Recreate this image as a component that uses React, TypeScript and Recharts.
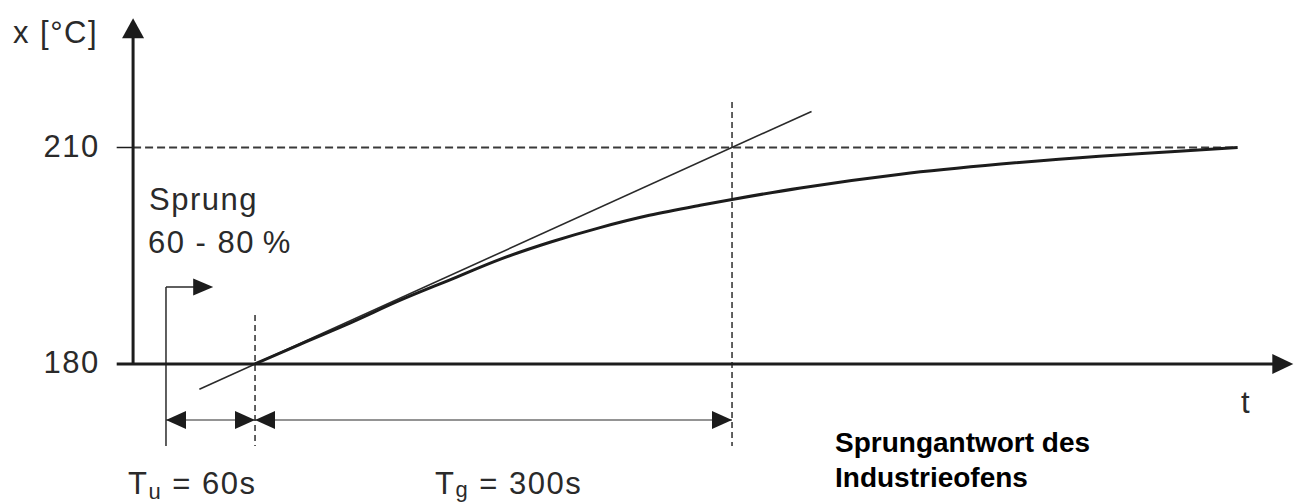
import React from 'react';
import { ComposedChart, Line, XAxis, YAxis, ReferenceLine, ReferenceDot } from 'recharts';

// Step response of the industrial furnace (t in s, x in °C)
const responseT = [60, 88, 120, 151, 183, 214, 246, 277, 308, 340, 360, 403, 466, 529, 591, 636, 678];
const responseV = [180, 182.7, 185.7, 188.8, 191.7, 194.5, 196.9, 198.9, 200.6, 202.0, 202.8, 204.4, 206.3, 207.7, 208.8, 209.4, 210];

// Tangent at the inflection point
const tangentT = [25, 410];
const tangentV = [176.5, 215];

// Axis ticks and characteristic times
const yTicks = [180, 210];
const xDomain = [-27, 713];
const yDomain = [168, 228];
const yAxisT = -16.7;
const stepT = 4;
const tuT = 60;
const tgT = 360;
const finalV = 210;
const baseV = 180;
const dimV = 172.24;
const dashBottomV = 168.64;
const stepTopV = 190.67;
const stepArrowT = 33.7;
const tuDashTopV = 186.8;
const tgDashTopV = 216.3;
const yArrowTipV = 227.9;
const finalEndT = 677.6;

const responseData = responseT.map((t, i) => ({ t, v: responseV[i] }));
const tangentData = tangentT.map((t, i) => ({ t, v: tangentV[i] }));

const INK = '#1c1c1c';
const THIN = '#2a2a2a';
const DASH = '#3a3a3a';
const FONT = '"Liberation Sans", Arial, sans-serif';

const arrow = (dir: 'up' | 'right' | 'left', len: number, half: number, color: string) =>
  (props: any) => {
    const { cx, cy } = props;
    let d = '';
    if (dir === 'up') d = `M${cx},${cy} L${cx - half},${cy + len} L${cx + half},${cy + len} Z`;
    if (dir === 'right') d = `M${cx},${cy} L${cx - len},${cy - half} L${cx - len},${cy + half} Z`;
    if (dir === 'left') d = `M${cx},${cy} L${cx + len},${cy - half} L${cx + len},${cy + half} Z`;
    return <path d={d} fill={color} stroke="none" />;
  };

const renderYTick = (props: any) => {
  const { x, y, payload } = props;
  return (
    <text x={x} y={y + 9} textAnchor="end" fontFamily={FONT} fontSize={31} fill={THIN} letterSpacing={1.5}>
      {payload.value}
    </text>
  );
};

export default function App() {
  const txt = { fontFamily: FONT, fontSize: 31, fill: THIN, letterSpacing: 1.5 } as const;
  return (
    <div style={{ position: 'absolute', left: 0, top: 0, width: 1300, height: 504, background: '#fff' }}>
      <ComposedChart
        width={1300}
        height={504}
        margin={{ top: 17.6, right: 6.7, bottom: 53.4, left: 0 }}
      >
        <XAxis type="number" dataKey="t" domain={xDomain} allowDataOverflow hide />
        <YAxis
          type="number"
          domain={yDomain}
          allowDataOverflow
          ticks={yTicks}
          width={116.7}
          axisLine={false}
          tickLine={false}
          tickSize={0}
          tickMargin={17}
          tick={renderYTick}
          interval={0}
        />
        {/* 210 level */}
        <ReferenceLine segment={[{ x: xDomain[0], y: finalV }, { x: yAxisT, y: finalV }]} stroke={INK} strokeWidth={1.5} ifOverflow="visible" />
        <ReferenceLine segment={[{ x: yAxisT, y: finalV }, { x: finalEndT, y: finalV }]} stroke={DASH} strokeWidth={1.8} strokeDasharray="8 4" ifOverflow="visible" />
        {/* vertical dashed markers */}
        <ReferenceLine segment={[{ x: tuT, y: tuDashTopV }, { x: tuT, y: dashBottomV }]} stroke={DASH} strokeWidth={1.6} strokeDasharray="6 4" ifOverflow="visible" />
        <ReferenceLine segment={[{ x: tgT, y: tgDashTopV }, { x: tgT, y: dashBottomV }]} stroke={DASH} strokeWidth={1.6} strokeDasharray="6 4" ifOverflow="visible" />
        {/* step marker */}
        <ReferenceLine segment={[{ x: stepT, y: stepTopV }, { x: stepT, y: dashBottomV }]} stroke={THIN} strokeWidth={1.5} ifOverflow="visible" />
        <ReferenceLine segment={[{ x: stepT, y: stepTopV }, { x: stepArrowT - 8, y: stepTopV }]} stroke={THIN} strokeWidth={1.5} ifOverflow="visible" />
        <ReferenceDot x={stepArrowT} y={stepTopV} ifOverflow="visible" shape={arrow('right', 20, 8.5, INK)} />
        {/* dimension lines */}
        <ReferenceLine segment={[{ x: stepT, y: dimV }, { x: tuT, y: dimV }]} stroke={THIN} strokeWidth={1.2} ifOverflow="visible" />
        <ReferenceLine segment={[{ x: tuT, y: dimV }, { x: tgT, y: dimV }]} stroke={THIN} strokeWidth={1.2} ifOverflow="visible" />
        <ReferenceDot x={stepT} y={dimV} ifOverflow="visible" shape={arrow('left', 20, 9, INK)} />
        <ReferenceDot x={tuT} y={dimV} ifOverflow="visible" shape={arrow('right', 20, 9, INK)} />
        <ReferenceDot x={tuT} y={dimV} ifOverflow="visible" shape={arrow('left', 20, 9, INK)} />
        <ReferenceDot x={tgT} y={dimV} ifOverflow="visible" shape={arrow('right', 20, 9, INK)} />
        {/* tangent */}
        <Line data={tangentData} dataKey="v" type="linear" stroke={THIN} strokeWidth={1.6} dot={false} isAnimationActive={false} />
        {/* axes */}
        <ReferenceLine segment={[{ x: xDomain[0], y: baseV }, { x: xDomain[1] - 8, y: baseV }]} stroke={INK} strokeWidth={3} ifOverflow="visible" />
        <ReferenceDot x={xDomain[1]} y={baseV} ifOverflow="visible" shape={arrow('right', 21, 10, INK)} />
        <ReferenceLine segment={[{ x: yAxisT, y: baseV }, { x: yAxisT, y: yArrowTipV - 1.5 }]} stroke={INK} strokeWidth={3} ifOverflow="visible" />
        <ReferenceDot x={yAxisT} y={yArrowTipV} ifOverflow="visible" shape={arrow('up', 20, 11, INK)} />
        {/* step response */}
        <Line data={responseData} dataKey="v" type="monotone" stroke={INK} strokeWidth={3} dot={false} isAnimationActive={false} />
      </ComposedChart>
      <svg width={1300} height={504} style={{ position: 'absolute', left: 0, top: 0, pointerEvents: 'none' }}>
        <text x={13} y={43} {...txt}>x [°C]</text>
        <text x={149} y={210} {...txt}>Sprung</text>
        <text x={148} y={253} {...txt}>{'60 - 80\u2009%'}</text>
        <text x={1241} y={413} {...txt}>t</text>
        <text x={128} y={494} {...txt}>
          T<tspan fontSize={22} dy={5}>u</tspan><tspan dy={-5}> = 60s</tspan>
        </text>
        <text x={435} y={494} {...txt}>
          T<tspan fontSize={22} dy={3}>g</tspan><tspan dy={-3}> = 300s</tspan>
        </text>
        <text x={835} y={452} fontFamily={FONT} fontWeight="bold" fontSize={28} fill="#000">Sprungantwort des</text>
        <text x={835} y={487} fontFamily={FONT} fontWeight="bold" fontSize={28} fill="#000">Industrieofens</text>
      </svg>
    </div>
  );
}
